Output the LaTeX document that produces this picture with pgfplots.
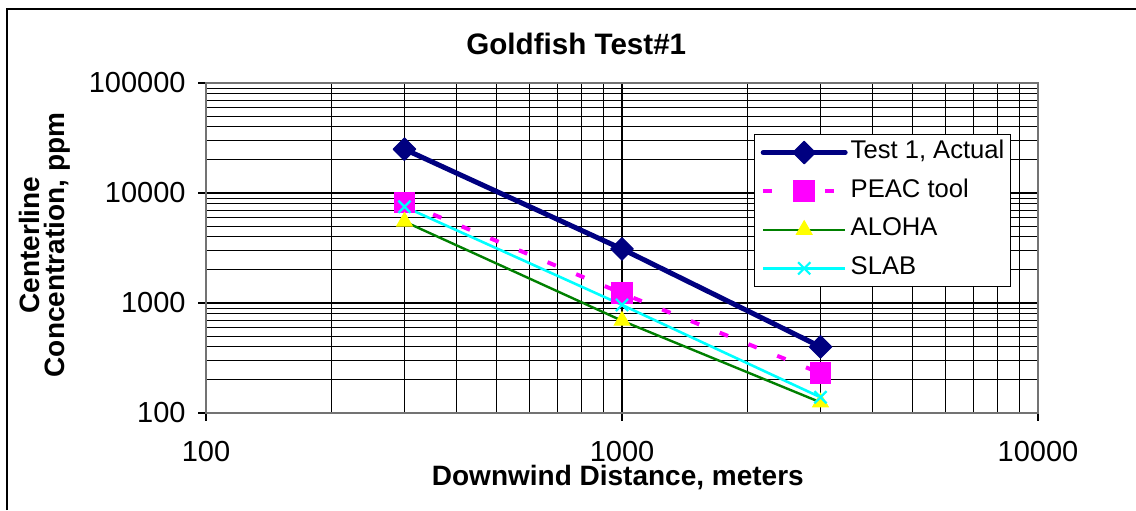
\documentclass[border=0pt]{standalone}
\usepackage{pgfplots}
\pgfplotsset{compat=1.18}
\usepackage{fontspec}
\setmainfont{Liberation Sans}
\definecolor{navy}{RGB}{0,0,128}
\definecolor{pmag}{RGB}{255,0,255}
\definecolor{agreen}{RGB}{0,128,0}
\definecolor{ayellow}{RGB}{255,255,0}
\definecolor{scyan}{RGB}{0,255,255}
\begin{document}
\begin{tikzpicture}
\useasboundingbox (0,0) rectangle (568pt,255pt);
\fill[white] (0,0) rectangle (568pt,255pt);
\draw[line width=0.8pt] (3.5pt,0) -- (3.5pt,250.5pt) -- (568pt,250.5pt);
\begin{axis}[
  at={(103pt,48.5pt)}, anchor=south west,
  scale only axis, width=416pt, height=165pt,
  xmode=log, ymode=log,
  xmin=100, xmax=10000, ymin=100, ymax=100000,
  xtick={100,1000,10000}, xticklabels={100,1000,10000},
  ytick={100,1000,10000,100000}, yticklabels={100,1000,10000,100000},
  minor xtick={200,300,400,500,600,700,800,900,2000,3000,4000,5000,6000,7000,8000,9000},
  minor ytick={200,300,400,500,600,700,800,900,2000,3000,4000,5000,6000,7000,8000,9000,20000,30000,40000,50000,60000,70000,80000,90000},
  grid=both,
  major grid style={black, line width=0.55pt},
  minor grid style={black, line width=0.45pt},
  tick align=outside, major tick length=4pt, minor tick length=0pt,
  tick pos=left,
  tick style={black, line width=0.6pt},
  axis line style={black!55, line width=1pt},
  ticklabel style={font=\fontsize{14.5}{17}\selectfont},
  xticklabel style={yshift=-6.5pt},
  yticklabel style={xshift=-2.7pt},
  title={Goldfish Test\#1},
  title style={at={(axis description cs:0.445,1.082)}, anchor=center, font=\fontsize{14.8}{17}\selectfont\bfseries},
  xlabel={Downwind Distance, meters},
  xlabel style={at={(axis description cs:0.495,-0.197)}, anchor=center, font=\fontsize{14}{16}\selectfont\bfseries},
  ylabel={Centerline\\Concentration, ppm},
  ylabel style={at={(axis description cs:-0.1935,0.509)}, anchor=center, align=center, font=\fontsize{14}{12.5}\selectfont\bfseries},
  legend style={at={(axis description cs:0.659,0.845)}, anchor=north west, draw=black, fill=white,
    font=\fontsize{12.8}{15}\selectfont, inner xsep=3pt, inner ysep=3pt, row sep=7.3pt,
    nodes={inner sep=0pt, text height=9pt, text depth=3pt, anchor=west},
    /tikz/every odd column/.append style={column sep=1.5pt}},
  legend cell align=left,
  legend image code/.code={\draw[mark repeat=2,mark phase=2,#1] plot coordinates {(0pt,0pt) (20.5pt,0pt) (41pt,0pt)};},
]
\addplot[color=navy, line width=2.5pt, line cap=round, line join=round, mark=square*, mark size=4pt,
  mark options={rotate=45, solid, line width=0.5pt, fill=navy}]
  coordinates {(300,25000) (1000,3100) (3000,400)};
\addlegendentry{Test 1, Actual}
\addplot[color=pmag, line width=2pt, dash pattern=on 4.5pt off 11pt, mark=square*, mark size=5.2pt,
  mark options={solid, line width=0.5pt, fill=pmag}]
  coordinates {(300,8200) (1000,1225) (3000,230)};
\addlegendentry{PEAC tool}
\addplot[color=agreen, line width=1.2pt, mark=triangle*, mark size=4.5pt,
  mark options={solid, line width=0.5pt, fill=ayellow, draw=ayellow}]
  coordinates {(300,5500) (1000,690) (3000,125)};
\addlegendentry{ALOHA}
\addplot[color=scyan, line width=1.3pt, mark=x, mark size=4.3pt,
  mark options={solid, line width=1.1pt}]
  coordinates {(300,7500) (1000,960) (3000,139)};
\addlegendentry{SLAB}
\end{axis}
\end{tikzpicture}
\end{document}
